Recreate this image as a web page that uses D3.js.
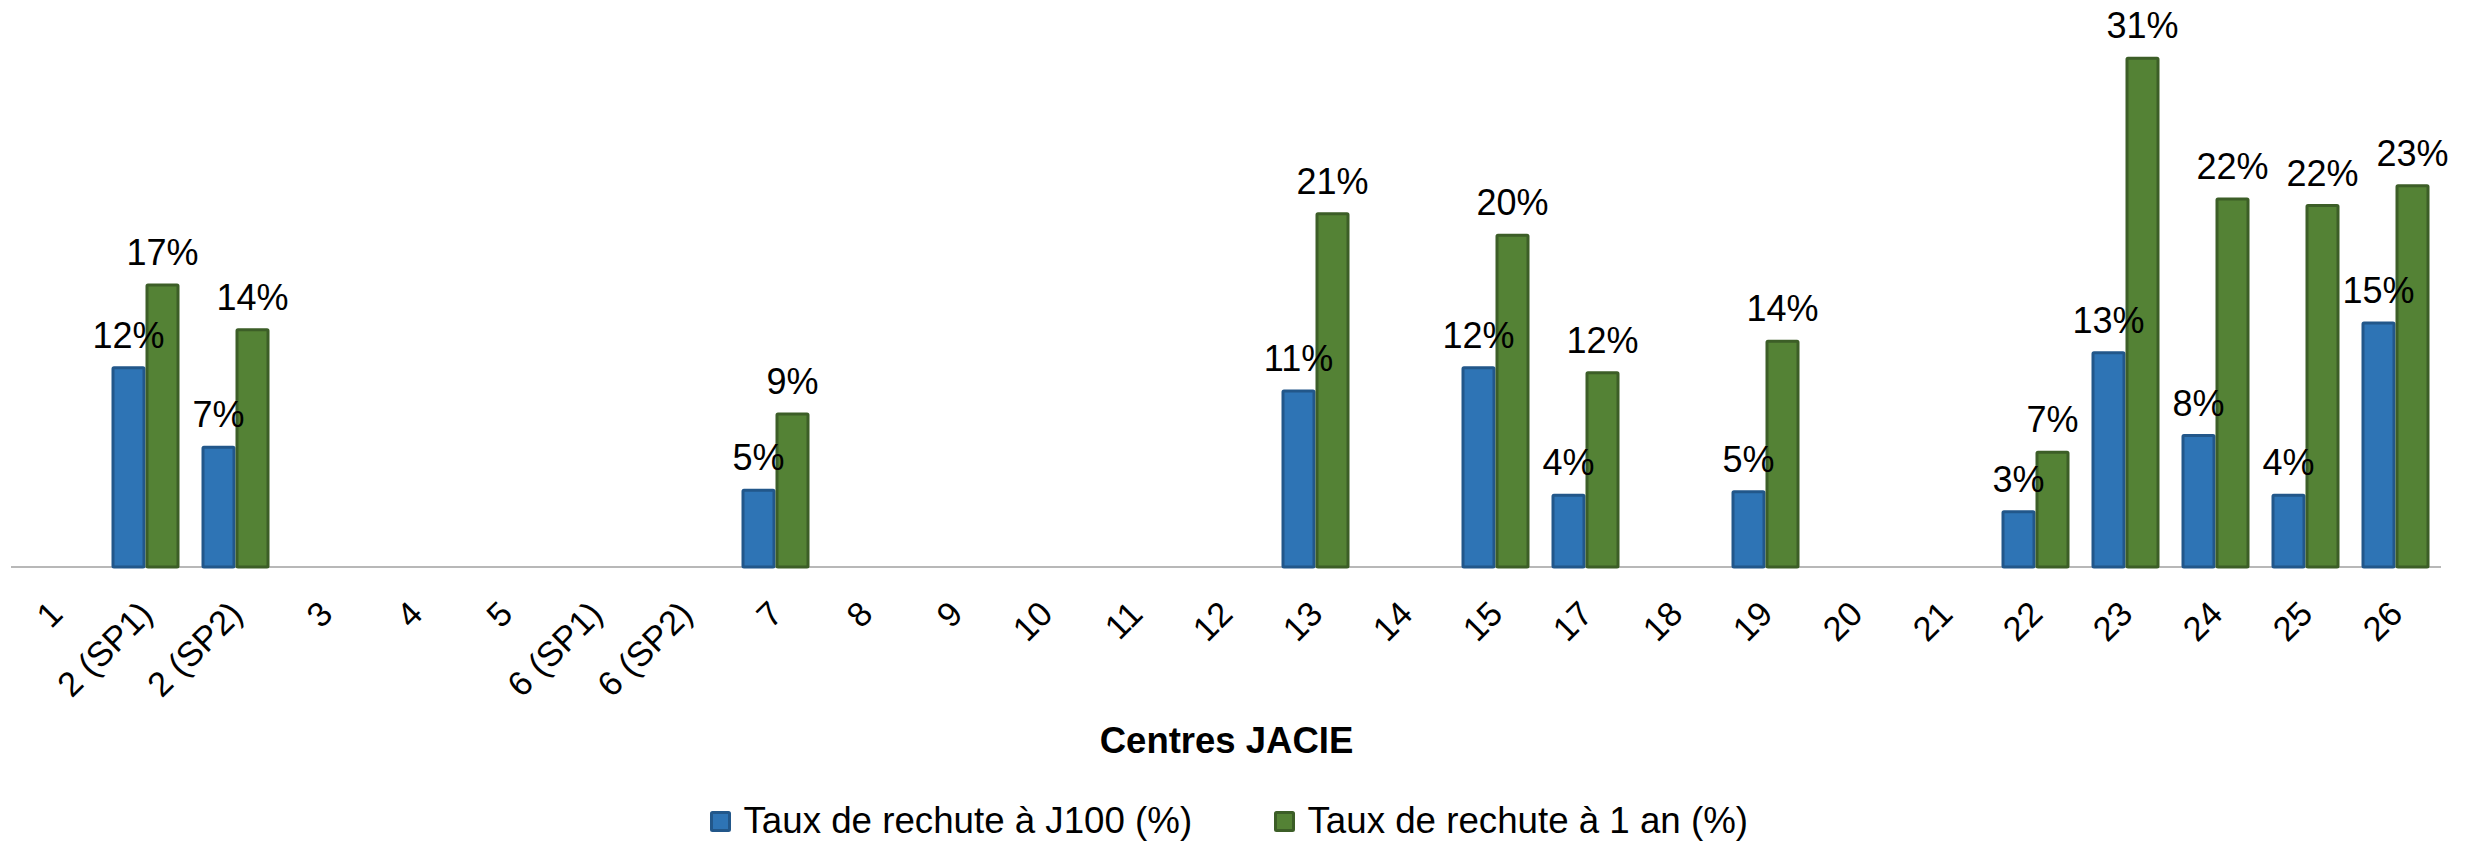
<!DOCTYPE html>
<html>
<head>
<meta charset="utf-8">
<script src="https://cdn.jsdelivr.net/npm/d3@7"></script>
<style>
  html, body { margin: 0; padding: 0; background: #fff; }
  svg { display: block; font-family: "Liberation Sans", Arial, sans-serif; }
</style>
</head>
<body>
<svg id="chart" width="2471" height="842"></svg>
<script>
const categories = ["1", "2 (SP1)", "2 (SP2)", "3", "4", "5", "6 (SP1)", "6 (SP2)", "7", "8", "9", "10", "11", "12", "13", "14", "15", "17", "18", "19", "20", "21", "22", "23", "24", "25", "26"];
const seriesNames = ["Taux de rechute à J100 (%)", "Taux de rechute à 1 an (%)"];
const j100 = [null, 12.1, 7.3, null, null, null, null, null, 4.7, null, null, null, null, null, 10.7, null, 12.1, 4.4, null, 4.6, null, null, 3.4, 13.0, 8.0, 4.4, 14.8];
const an1  = [null, 17.1, 14.4, null, null, null, null, null, 9.3, null, null, null, null, null, 21.4, null, 20.1, 11.8, null, 13.7, null, null, 7.0, 30.8, 22.3, 21.9, 23.1];
const yDomain = [0, 30];

const fills = ["#2E74B5", "#548235"];
const strokes = ["#22578A", "#3C5E27"];

const svg = d3.select("#chart");
const base = 566.5;
const x = d3.scaleBand().domain(categories).range([10.5, 2440.5]).paddingInner(0.2444).paddingOuter(0.1222);
const xs = d3.scaleBand().domain([0, 1]).range([0, x.bandwidth()]);
const y = d3.scaleLinear().domain(yDomain).range([base, base - 30 * 16.55]);

const series = [j100, an1];
const data = [];
series.forEach((vals, s) => {
  vals.forEach((v, i) => {
    if (v !== null) data.push({ cat: categories[i], s, v });
  });
});

// x axis
const axisG = svg.append("g").attr("transform", `translate(0,${base})`)
  .call(d3.axisBottom(x).tickSizeInner(0).tickSizeOuter(0).tickPadding(0));
axisG.select(".domain").attr("stroke", "#A0A0A0").attr("stroke-width", 1.5);
axisG.selectAll(".tick text")
  .attr("font-size", 34.5)
  .attr("font-family", "Liberation Sans, Arial, sans-serif")
  .attr("fill", "#000")
  .attr("text-anchor", "end")
  .attr("dy", 0)
  .attr("y", 0)
  .attr("transform", "translate(9,49.5) rotate(-45)");

// bars
const bw = xs.bandwidth();
svg.append("g").selectAll("rect").data(data).join("rect")
  .attr("x", d => x(d.cat) + xs(d.s) + 1.5)
  .attr("y", d => y(d.v) + 1.5)
  .attr("width", bw - 3)
  .attr("height", d => base + 0.5 - y(d.v) - 1.5)
  .attr("rx", 1)
  .attr("fill", d => fills[d.s])
  .attr("stroke", d => strokes[d.s])
  .attr("stroke-width", 3);

// labels
svg.append("g").selectAll("text").data(data).join("text")
  .attr("x", d => x(d.cat) + xs(d.s) + bw / 2)
  .attr("y", d => y(d.v) - 18.5)
  .attr("text-anchor", "middle")
  .attr("font-size", 36)
  .attr("fill", "#000")
  .text(d => Math.round(d.v) + "%");

// axis title
svg.append("text")
  .attr("x", (x.range()[0] + x.range()[1]) / 2 + 1)
  .attr("y", 752.5)
  .attr("text-anchor", "middle")
  .attr("font-size", 36.5)
  .attr("font-weight", "bold")
  .attr("fill", "#000")
  .text("Centres JACIE");

// legend
const legendX = [710, 1274];
const lg = svg.append("g").selectAll("g").data(seriesNames).join("g")
  .attr("transform", (d, i) => `translate(${legendX[i]},0)`);
lg.append("rect")
  .attr("x", 1.5).attr("y", 812.5)
  .attr("width", 18).attr("height", 18).attr("rx", 1)
  .attr("fill", (d, i) => fills[i])
  .attr("stroke", (d, i) => strokes[i])
  .attr("stroke-width", 3);
lg.append("text")
  .attr("x", 33.5).attr("y", 833.3)
  .attr("font-size", 36.7)
  .attr("fill", "#000")
  .text(d => d);
</script>
</body>
</html>
